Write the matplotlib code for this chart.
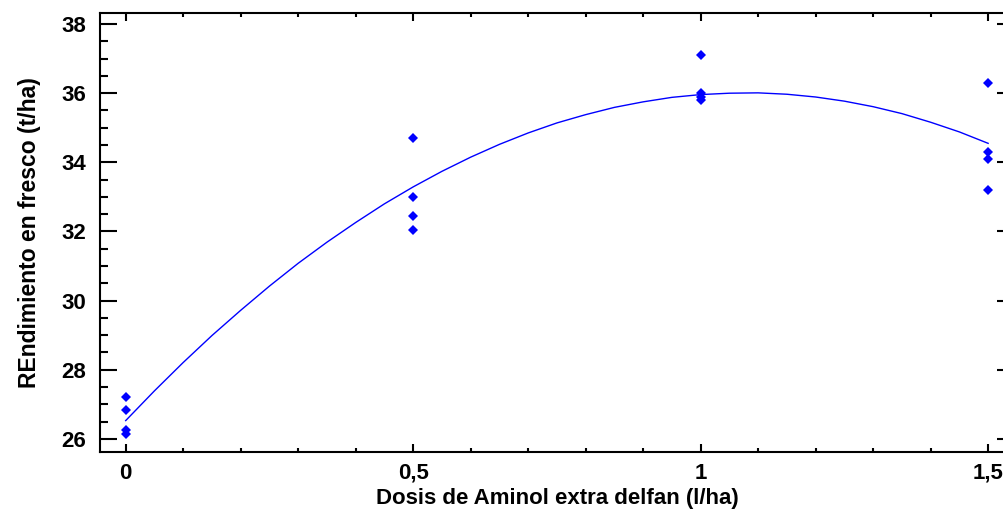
import matplotlib
matplotlib.use('Agg')
import matplotlib.pyplot as plt
from matplotlib.ticker import MultipleLocator, FuncFormatter

plt.rcParams['font.family'] = ['Liberation Sans', 'DejaVu Sans']
plt.rcParams['font.weight'] = 'bold'

# observaciones (dosis, rendimiento)
dosis = [0, 0, 0, 0, 0.5, 0.5, 0.5, 0.5, 1, 1, 1, 1, 1.5, 1.5, 1.5, 1.5]
rendimiento = [27.2, 26.85, 26.25, 26.15,
               34.7, 33.0, 32.45, 32.05,
               37.1, 36.0, 35.9, 35.8,
               36.3, 34.3, 34.1, 33.2]

# curva ajustada
curva_x = [0, 0.05, 0.1, 0.15, 0.2, 0.25, 0.3, 0.35, 0.4, 0.45, 0.5, 0.55, 0.6, 0.65, 0.7, 0.75,
           0.8, 0.85, 0.9, 0.95, 1.0, 1.05, 1.1, 1.15, 1.2, 1.25, 1.3, 1.35, 1.4, 1.45, 1.5]
curva_y = [26.53, 27.39, 28.21, 28.99, 29.72, 30.42, 31.08, 31.69, 32.26, 32.80, 33.29, 33.74,
           34.15, 34.52, 34.85, 35.14, 35.38, 35.59, 35.75, 35.88, 35.96, 36.00, 36.01, 35.97,
           35.89, 35.77, 35.61, 35.41, 35.16, 34.88, 34.55]

fig = plt.figure(figsize=(10.04, 5.15), dpi=100)
ax = fig.add_axes([100/1004, 63.3/515, 914/1004, 438.7/515])

ax.plot(curva_x, curva_y, color='#0000ff', lw=1.0)
ax.plot(dosis, rendimiento, 'D', color='#0000ff', ms=5.2, mew=0)

ax.set_xlim(-0.0447, 1.545)
ax.set_ylim(25.63, 38.32)

ax.xaxis.set_major_locator(MultipleLocator(0.5))
ax.xaxis.set_minor_locator(MultipleLocator(0.1))
ax.yaxis.set_major_locator(MultipleLocator(2))
ax.yaxis.set_minor_locator(MultipleLocator(0.5))

def coma(v, pos):
    s = ('%g' % v)
    return s.replace('.', ',')
ax.xaxis.set_major_formatter(FuncFormatter(coma))

for s in ax.spines.values():
    s.set_linewidth(1.5)

ax.tick_params(axis='x', which='major', direction='in', length=6, width=1.5, top=True,
               labelsize=16, pad=8)
ax.tick_params(axis='x', which='minor', direction='in', length=3, width=1.5, top=True)
ax.tick_params(axis='y', which='major', direction='in', length=12, width=1.5, right=True,
               labelsize=16, pad=10)
ax.tick_params(axis='y', which='minor', direction='in', length=5.5, width=1.5, right=True)

ax.set_xlabel('Dosis de Aminol extra delfan (l/ha)', fontsize=16, fontweight='bold', labelpad=3)
ax.set_ylabel('REndimiento en fresco (t/ha)', fontsize=16.5, fontweight='bold', labelpad=15)

plt.savefig('out.png', dpi=100)
